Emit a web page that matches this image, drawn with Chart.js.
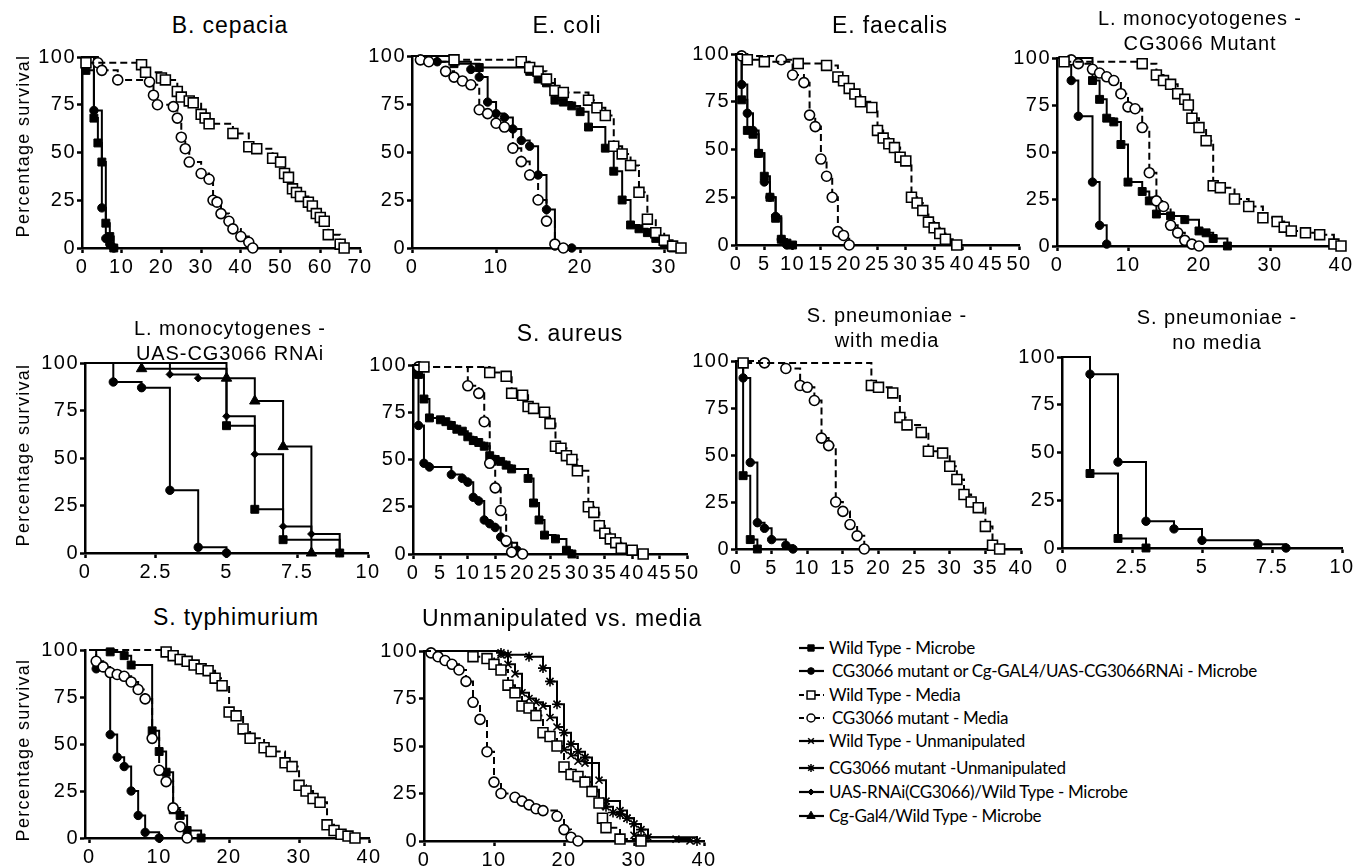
<!DOCTYPE html>
<html>
<head>
<meta charset="utf-8">
<script src="https://cdn.jsdelivr.net/npm/chart.js@4.4.1/dist/chart.umd.min.js"></script>
<style>
  body { margin: 0; width: 1362px; height: 867px; background: #fff; position: relative; overflow: hidden;
         font-family: 'Liberation Sans', Arial, Helvetica, sans-serif; color: #000; }
  canvas { position: absolute; }
  .title { position: absolute; transform: translateX(-50%); white-space: nowrap; text-align: center; }
  .ylab { position: absolute; font-size: 18px; letter-spacing: 1.3px; white-space: nowrap;
          transform: translate(-50%, -50%) rotate(-90deg); }
  .leg { position: absolute; height: 22px; font-family: Lato, 'Open Sans', sans-serif; font-size: 17px;
         letter-spacing: -0.3px; white-space: nowrap; }
  .leg canvas { position: absolute; left: 0; top: 0; }
  .leg span { position: absolute; top: 0; line-height: 22px; }
</style>
</head>
<body>
<script>
// ---- tick labels ----
const yTicks = [0, 25, 50, 75, 100];
const ticks70 = [0, 10, 20, 30, 40, 50, 60, 70];
const ticks30 = [0, 10, 20, 30];
const ticks50by5 = [0, 5, 10, 15, 20, 25, 30, 35, 40, 45, 50];
const ticks40by10 = [0, 10, 20, 30, 40];
const ticks40by5 = [0, 5, 10, 15, 20, 25, 30, 35, 40];
const ticks10 = [0, 2.5, 5, 7.5, 10];

// ---- survival curves: [day, percent surviving] ----
// B. cepacia
const cepWtMic = [[0,100],[1,93],[3,68],[4,55],[5,45],[6,13],[7,6],[8,0]];
const cepMutMic = [[0,100],[3,72],[5,21],[6,5],[7,2],[8,0]];
const cepWtMed = [[0,100],[1,97],[15,96],[16,92],[20,89],[21,88],[24,82],[25,79],[27,77],[28,76],[30,70],[31,68],[32,65],[38,60],[42,53],[44,52],[48,47],[50,45],[51,39],[52,37],[53,31],[54,29],[55,27],[57,24],[58,22],[59,18],[60,16],[61,14],[62,7],[65,2],[66,0]];
const cepMutMed = [[0,100],[4,97],[5,93],[9,88],[17,87],[18,80],[19,75],[23,74],[24,68],[25,58],[26,52],[27,45],[30,39],[32,36],[33,25],[34,24],[35,18],[37,14],[38,10],[40,6],[42,3],[43,0]];
// E. coli
const coliWtMic = [[0,100],[5,96],[8,94],[14,92],[15,88],[16,86],[17,77],[18,76],[19,74],[20,71],[21,63],[23,52],[24,40],[25,25],[26,12],[27,10],[28,8],[29,5],[30,2],[31,0]];
const coliMutMic = [[0,100],[3,97],[7,93],[8,89],[9,76],[10,70],[11,68],[12,62],[13,56],[14,53],[15,38],[16,20],[17,1],[19,0]];
const coliWtMed = [[0,100],[5,98],[13,97],[14,94],[15,92],[16,88],[17,82],[18,81],[21,77],[22,73],[23,69],[24,53],[25,49],[26,43],[27,29],[28,15],[29,8],[30,4],[31,1],[32,0]];
const coliMutMed = [[0,100],[1,98],[2,97],[4,92],[5,89],[6,87],[7,85],[8,72],[9,70],[10,65],[11,63],[12,52],[13,45],[14,38],[15,25],[16,14],[17,2],[18,0]];
// E. faecalis
const faecWtMic = [[0,100],[1,76],[2,60],[3,58],[4,48],[5,36],[6,25],[7,14],[8,3],[9,1],[10,0]];
const faecMutMic = [[0,100],[1,84],[2,69],[3,60],[4,48],[5,33],[6,25],[7,15],[8,3],[9,0]];
const faecWtMed = [[0,100],[2,97],[5,96],[11,95],[16,94],[18,88],[19,86],[20,82],[21,79],[22,75],[24,72],[25,60],[26,56],[27,53],[28,51],[29,46],[30,44],[31,25],[32,22],[33,18],[34,12],[35,9],[36,6],[37,3],[39,0]];
const faecMutMed = [[0,100],[1,99],[8,97],[10,89],[12,85],[13,68],[14,62],[15,45],[16,36],[17,25],[18,7],[19,5],[20,0]];
// L. monocytogenes - CG3066 mutant
const lmWtMic = [[0,100],[5,88],[6,78],[7,68],[8,66],[9,54],[10,34],[12,29],[13,24],[14,17],[16,16],[18,14],[20,8],[21,7],[22,4],[24,0]];
const lmMutMic = [[0,100],[2,88],[3,69],[5,34],[6,11],[7,1]];
const lmWtMed = [[0,100],[1,98],[12,97],[14,91],[15,88],[16,86],[17,81],[18,78],[18.5,75],[19,68],[20,63],[21,56],[22,32],[23,31],[25,25],[27,21],[29,15],[31,13],[32,10],[33,8],[35,7],[37,6],[39,1],[40,0]];
const lmMutMed = [[0,100],[2,99],[3,97],[5,94],[6,92],[7,90],[8,88],[9,81],[10,74],[11,73],[12,63],[13,39],[14,24],[15,21],[16,11],[17,7],[18,3],[19,1],[20,0]];
// L. monocytogenes - UAS-CG3066 RNAi
const rnaiWtMic = [[0,100],[5,67],[6,23],[7,7],[9,0]];
const rnaiKdMic = [[0,100],[1,90],[2,87],[3,33],[4,3],[5,0]];
const rnaiUasWt = [[0,100],[3,94],[4,92],[5,72],[6,52],[7,14],[8,10],[9,0]];
const rnaiGal4Wt = [[0,100],[2,97],[5,92],[6,80],[7,56],[8,0]];
// S. aureus
const aurWtMic = [[0,100],[1,95],[2,82],[3,72],[5,71],[6,70],[7,68],[8,66],[9,65],[10,62],[11,60],[12,59],[13,57],[14,52],[15,50],[16,49],[17,47],[18,45],[21,40],[22,27],[23,18],[24,10],[26,8],[28,2],[29,0]];
const aurMutMic = [[0,100],[1,68],[2,48],[3,46],[7,42],[9,40],[10,38],[11,30],[12,28],[13,18],[14,16],[15,14],[16,9],[17,6],[19,2],[20,0]];
const aurWtMed = [[0,100],[2,99],[14,96],[17,94],[18,85],[20,84],[21,78],[22,77],[24,75],[25,69],[26,57],[27,56],[28,52],[29,50],[30,44],[32,25],[33,22],[34,15],[35,11],[36,8],[37,6],[38,3],[40,2],[42,0]];
const aurMutMed = [[0,100],[1,99],[10,89],[12,85],[13,70],[14,48],[15,35],[16,23],[17,7],[18,1],[20,0]];
// S. pneumoniae - with media
const pnWtMic = [[0,100],[1,39],[2,5],[3,0]];
const pnMutMic = [[0,100],[1,91],[2,46],[3,14],[4,11],[5,5],[7,2],[8,0]];
const pnWtMed = [[0,100],[1,99],[19,87],[20,86],[22,83],[23,70],[24,66],[26,62],[27,52],[29,51],[30,44],[31,37],[32,29],[33,25],[34,22],[35,12],[36,2],[37,0]];
const pnMutMed = [[0,100],[4,99],[7,96],[9,87],[10,86],[11,79],[12,59],[13,55],[14,25],[15,20],[16,13],[17,7],[18,0]];
// S. pneumoniae - no media
const pnoWtMic = [[0,100],[1,39],[2,5],[3,0]];
const pnoMutMic = [[0,100],[1,91],[2,45],[3,14],[4,10],[5,4],[7,2],[8,0]];
// S. typhimurium
const tyWtMic = [[0,100],[3,99],[5,97],[6,92],[9,57],[10,46],[11,35],[12,15],[13,12],[14,4],[16,0]];
const tyMutMic = [[0,100],[1,90],[3,55],[4,43],[5,38],[6,25],[7,12],[8,3],[10,0]];
const tyWtMed = [[0,100],[11,99],[12,97],[13,95],[14,94],[15,92],[16,90],[17,89],[18,85],[19,81],[20,67],[21,65],[22,58],[23,53],[25,48],[26,46],[28,40],[29,38],[30,28],[31,25],[32,21],[33,19],[34,7],[35,4],[36,2],[37,1],[38,0]];
const tyMutMed = [[0,100],[1,94],[2,91],[3,88],[4,87],[5,86],[6,83],[7,79],[8,74],[9,53],[10,36],[11,30],[12,16],[13,6],[14,0]];
// Unmanipulated vs. media
const unWtMed = [[0,100],[7,97],[9,96],[10,93],[11,90],[12,82],[13,78],[14,71],[15,70],[16,66],[17,57],[18,55],[19,50],[20,39],[21,35],[22,34],[23,31],[24,26],[25,20],[25.5,12],[26,7],[28,1],[31,0]];
const unMutMed = [[0,100],[1,99],[2,97],[3,95],[4,93],[5,90],[6,84],[7,73],[8,64],[9,47],[10,31],[11,25],[13,23],[14,21],[15,19],[16,17],[17,16],[19,13],[20,6],[21,2],[22,0]];
const unWtUnman = [[0,100],[11,98],[12,93],[13,88],[14,78],[15,75],[16,73],[17,71],[18,65],[19,60],[20,48],[21,45],[22,42],[23,41],[25,32],[26,21],[28,16],[29,12],[30,3],[31,2],[36,1],[38,0]];
const unMutUnman = [[0,100],[11,99],[12,98],[15,97],[17,91],[18,84],[19,72],[20,57],[21,51],[22,47],[23,44],[24,27],[25,20],[26,18],[27,15],[28,14],[29,12],[30,9],[31,6],[32,2],[39,0]];

const legendLabels = [
  ['wtMic', 'Wild Type - Microbe'],
  ['mutMic', 'CG3066 mutant or Cg-GAL4/UAS-CG3066RNAi - Microbe'],
  ['wtMed', 'Wild Type - Media'],
  ['mutMed', 'CG3066 mutant - Media'],
  ['wtUnman', 'Wild Type - Unmanipulated'],
  ['mutUnman', 'CG3066 mutant -Unmanipulated'],
  ['uasWt', 'UAS-RNAi(CG3066)/Wild Type - Microbe'],
  ['gal4Wt', 'Cg-Gal4/Wild Type - Microbe']
];

// ---- look ----
const INK = '#000';
const FONT = "'Liberation Sans', Arial, Helvetica, sans-serif";
const STYLES = {
  wtMic:    { pointStyle: 'rect',     fill: true,  dash: [],     r: 5.6 },
  mutMic:   { pointStyle: 'circle',   fill: true,  dash: [],     r: 4.2 },
  wtMed:    { pointStyle: 'rect',     fill: false, dash: [7, 4], r: 7 },
  mutMed:   { pointStyle: 'circle',   fill: false, dash: [7, 4], r: 5 },
  wtUnman:  { pointStyle: 'crossRot', fill: false, dash: [],     r: 5 },
  mutUnman: { pointStyle: 'star',     fill: false, dash: [],     r: 5 },
  uasWt:    { pointStyle: 'rectRot',  fill: true,  dash: [],     r: 3.8 },
  gal4Wt:   { pointStyle: 'triangle', fill: true,  dash: [],     r: 6 }
};

// plot rectangles are in page pixels (left/right = x-axis ends, top = 100 %, bottom = 0 %)
const panels = [
  { title: ['B. cepacia'], big: true, tx: 230, ty: 25, left: 82, right: 360, top: 57, bottom: 248,
    xmin: 0, xmax: 70, xticks: ticks70,
    series: [['wtMed', cepWtMed], ['mutMed', cepMutMed], ['wtMic', cepWtMic], ['mutMic', cepMutMic]] },
  { title: ['E. coli'], big: true, tx: 567, ty: 25, left: 412, right: 681, top: 56, bottom: 248,
    xmin: 0, xmax: 32, xticks: ticks30,
    series: [['wtMed', coliWtMed], ['mutMed', coliMutMed], ['wtMic', coliWtMic], ['mutMic', coliMutMic]] },
  { title: ['E. faecalis'], big: true, tx: 890, ty: 25, left: 736, right: 1019, top: 54, bottom: 245,
    xmin: 0, xmax: 50, xticks: ticks50by5,
    series: [['wtMed', faecWtMed], ['mutMed', faecMutMed], ['wtMic', faecWtMic], ['mutMic', faecMutMic]] },
  { title: ['L. monocyotogenes -', 'CG3066 Mutant'], tx: 1200, ty: 18, left: 1057, right: 1341, top: 58, bottom: 246,
    xmin: 0, xmax: 40, xticks: ticks40by10,
    series: [['wtMed', lmWtMed], ['mutMed', lmMutMed], ['wtMic', lmWtMic], ['mutMic', lmMutMic]] },
  { title: ['L. monocytogenes -', 'UAS-CG3066 RNAi'], tx: 230, ty: 328, left: 85, right: 368, top: 363, bottom: 553,
    xmin: 0, xmax: 10, xticks: ticks10,
    series: [['wtMic', rnaiWtMic], ['mutMic', rnaiKdMic], ['uasWt', rnaiUasWt], ['gal4Wt', rnaiGal4Wt]] },
  { title: ['S. aureus'], big: true, tx: 570, ty: 333, left: 413, right: 687, top: 365, bottom: 554,
    xmin: 0, xmax: 50, xticks: ticks50by5,
    series: [['wtMed', aurWtMed], ['mutMed', aurMutMed], ['wtMic', aurWtMic], ['mutMic', aurMutMic]] },
  { title: ['S. pneumoniae -', 'with media'], tx: 887, ty: 315, left: 736, right: 1021, top: 361, bottom: 549,
    xmin: 0, xmax: 40, xticks: ticks40by5,
    series: [['wtMed', pnWtMed], ['mutMed', pnMutMed], ['wtMic', pnWtMic], ['mutMic', pnMutMic]] },
  { title: ['S. pneumoniae -', 'no media'], tx: 1217, ty: 317, left: 1062, right: 1342, top: 357, bottom: 548,
    xmin: 0, xmax: 10, xticks: ticks10,
    series: [['wtMic', pnoWtMic], ['mutMic', pnoMutMic]] },
  { title: ['S. typhimurium'], big: true, tx: 236, ty: 617, left: 85, right: 369, top: 650, bottom: 838,
    xmin: -0.6, xmax: 40, xticks: ticks40by10,
    series: [['wtMed', tyWtMed], ['mutMed', tyMutMed], ['wtMic', tyWtMic], ['mutMic', tyMutMic]] },
  { title: ['Unmanipulated vs. media'], big: true, tx: 562, ty: 618, left: 424, right: 704, top: 651, bottom: 841,
    xmin: 0, xmax: 40, xticks: ticks40by10,
    series: [['wtMed', unWtMed], ['mutMed', unMutMed], ['wtUnman', unWtUnman], ['mutUnman', unMutUnman]] }
];

const yLabelRows = [146, 455, 750];
const legendRows = [648, 671, 695, 718, 741, 768, 792, 816];

const YW = 60, XH = 34, PT = 14, PR = 20;

// wider digits like the original export
const spacingPlugin = {
  id: 'spacing',
  beforeDraw(chart) { chart.ctx.letterSpacing = '1.5px'; }
};

function axis(min, max, tickValues, dir) {
  return {
    type: 'linear', min: min, max: max,
    afterBuildTicks: s => { s.ticks = tickValues.map(v => ({ value: v })); },
    afterFit: s => { if (dir === 'x') s.height = XH; else s.width = YW; },
    grid: { drawOnChartArea: false, drawTicks: true, tickLength: 5, tickWidth: 2.5, tickColor: INK },
    border: { display: true, color: INK, width: 2.5 },
    ticks: {
      color: INK, padding: dir === 'x' ? 2 : 1, autoSkip: false, maxRotation: 0,
      font: { family: FONT, size: 20, lineHeight: 1.2 },
      callback: v => String(v)
    }
  };
}

function dataset(key, pts) {
  const st = STYLES[key];
  return {
    data: pts.map(p => ({ x: p[0], y: p[1] })),
    stepped: true,
    borderColor: INK,
    borderWidth: 2,
    borderDash: st.dash,
    pointStyle: st.pointStyle,
    pointRadius: c => (c.dataIndex === 0 ? 0 : st.r),
    pointBackgroundColor: st.fill ? INK : '#fff',
    pointBorderColor: INK,
    pointBorderWidth: st.fill ? 1 : 1.6,
    fill: false,
    clip: false
  };
}

function addText(cls, html, css) {
  const d = document.createElement('div');
  d.className = cls;
  d.innerHTML = html;
  Object.assign(d.style, css);
  document.body.appendChild(d);
  return d;
}

function makePanel(p) {
  const cv = document.createElement('canvas');
  cv.width = YW + (p.right - p.left) + PR;
  cv.height = PT + (p.bottom - p.top) + XH;
  cv.style.left = (p.left - YW) + 'px';
  cv.style.top = (p.top - PT) + 'px';
  document.body.appendChild(cv);

  new Chart(cv, {
    type: 'line',
    data: { datasets: p.series.map(s => dataset(s[0], s[1])) },
    options: {
      responsive: false,
      animation: false,
      events: [],
      layout: { padding: { top: PT, right: PR, left: 0, bottom: 0 } },
      plugins: { legend: { display: false }, tooltip: { enabled: false } },
      scales: {
        x: axis(p.xmin, p.xmax, p.xticks, 'x'),
        y: axis(0, 100, yTicks, 'y')
      }
    },
    plugins: [spacingPlugin]
  });

  // title
  const lh = p.big ? 28 : 25;
  addText('title', p.title.join('<br>'), {
    left: p.tx + 'px', top: (p.ty - lh / 2) + 'px', lineHeight: lh + 'px',
    fontSize: (p.big ? 23 : 20) + 'px', letterSpacing: '0.9px'
  });
}

panels.forEach(makePanel);

yLabelRows.forEach(y => addText('ylab', 'Percentage survival', { left: '23px', top: y + 'px' }));

// legend
function legendIcon(cv, st) {
  const ctx = cv.getContext('2d');
  ctx.strokeStyle = INK;
  ctx.lineWidth = 2.2;
  ctx.setLineDash(st.dash.length ? [5, 3] : []);
  ctx.beginPath(); ctx.moveTo(1, 11); ctx.lineTo(26, 11); ctx.stroke();
  ctx.setLineDash([]);
  ctx.fillStyle = st.fill ? INK : '#fff';
  ctx.lineWidth = st.fill ? 1 : 1.5;
  const opts = { pointStyle: st.pointStyle, radius: st.r * 0.8, rotation: 0, borderWidth: ctx.lineWidth };
  if (Chart.helpers && Chart.helpers.drawPoint) {
    Chart.helpers.drawPoint(ctx, opts, 13, 11);
  } else {
    ctx.beginPath(); ctx.arc(13, 11, 3.5, 0, Math.PI * 2); ctx.fill(); ctx.stroke();
  }
}

legendLabels.forEach((item, i) => {
  const row = addText('leg', '', { left: '798px', top: (legendRows[i] - 11) + 'px' });
  const cv = document.createElement('canvas');
  cv.width = 30; cv.height = 22;
  row.appendChild(cv);
  legendIcon(cv, STYLES[item[0]]);
  const span = document.createElement('span');
  span.textContent = item[1];
  span.style.left = (i === 1 || i === 3 ? 34 : 31) + 'px';
  row.appendChild(span);
});
</script>
</body>
</html>
